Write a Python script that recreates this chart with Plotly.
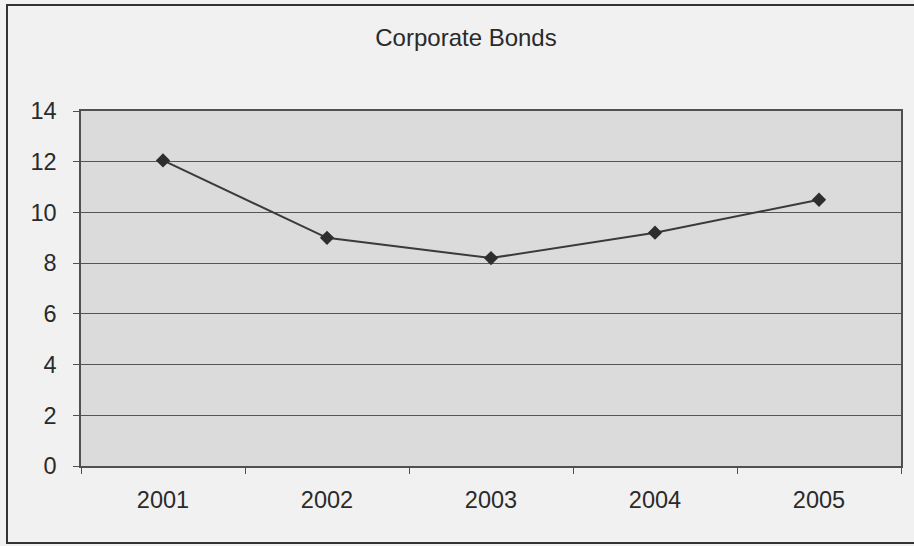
import plotly.graph_objects as go

# Yearly series for the corporate bonds chart
years = ["2001", "2002", "2003", "2004", "2005"]
values = [12.05, 9.0, 8.2, 9.2, 10.5]
y_ticks = [0, 2, 4, 6, 8, 10, 12, 14]

W, H = 914, 546
L, R, T, B = 81, 13, 111, 80
pw, ph = W - L - R, H - T - B

def px_x(p):
    return (p - L) / pw

def px_y(p):
    return (H - B - p) / ph

fig = go.Figure()
fig.add_trace(go.Scatter(
    x=years, y=values, mode="lines+markers",
    line=dict(color="#3a3a3a", width=2),
    marker=dict(symbol="diamond", size=11, color="#2e2e2e"),
    showlegend=False,
))

font = "Liberation Sans, Arial, sans-serif"
text_color = "#2a2a2a"

fig.update_layout(
    width=W, height=H,
    margin=dict(l=L, r=R, t=T, b=B),
    paper_bgcolor="#f1f1f1",
    plot_bgcolor="#dbdbdb",
    font=dict(family=font, size=23, color=text_color),
    title=dict(text="Corporate Bonds", x=px_x(466), xref="paper", xanchor="center",
               y=1 - 38 / H, yanchor="middle",
               font=dict(family=font, size=24, color=text_color)),
    xaxis=dict(
        type="category", range=[-0.5, 4.5],
        showgrid=False, showline=True, linecolor="#505050", linewidth=1.5, mirror=True,
        ticks="outside", tickson="boundaries", ticklen=6, tickcolor="#505050",
        ticklabelstandoff=12,
        tickfont=dict(family=font, size=23.5, color=text_color),
    ),
    yaxis=dict(
        range=[0, 14], tickvals=y_ticks,
        showgrid=True, gridcolor="#555555", gridwidth=1.3,
        showline=True, linecolor="#505050", linewidth=1.5, mirror=True,
        ticks="outside", ticklen=6, tickcolor="#505050",
        ticklabelstandoff=12, zeroline=False,
        tickfont=dict(family=font, size=23.5, color=text_color),
    ),
)

# Outer chart frame
fig.add_shape(type="rect", xref="paper", yref="paper",
              x0=px_x(7), x1=px_x(920), y0=px_y(543), y1=px_y(5),
              line=dict(color="#333333", width=2), fillcolor="rgba(0,0,0,0)",
              layer="below")

fig.write_html("out.html")
